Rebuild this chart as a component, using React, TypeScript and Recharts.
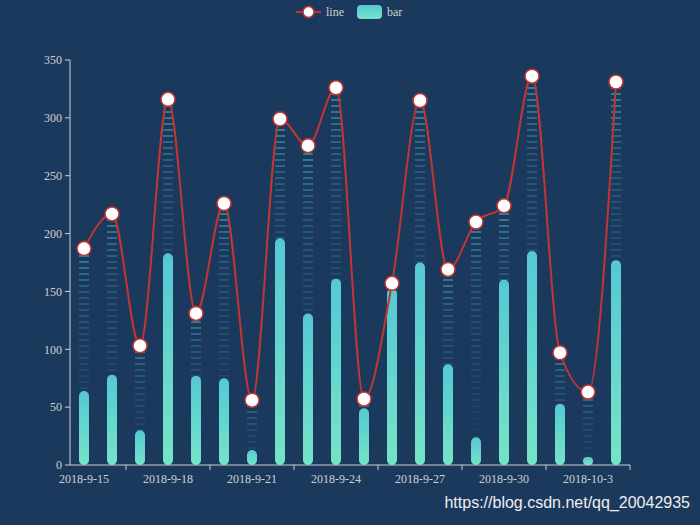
import { ComposedChart, Bar, Line, XAxis, YAxis } from 'recharts';

const dates = [
  '2018-9-15', '2018-9-16', '2018-9-17', '2018-9-18', '2018-9-19',
  '2018-9-20', '2018-9-21', '2018-9-22', '2018-9-23', '2018-9-24',
  '2018-9-25', '2018-9-26', '2018-9-27', '2018-9-28', '2018-9-29',
  '2018-9-30', '2018-10-1', '2018-10-2', '2018-10-3', '2018-10-4',
];
const lineValues = [187, 217, 103, 316, 131, 226, 56, 299, 276, 326, 57, 157, 315, 169, 210, 224, 336, 97, 63, 331];
const barValues = [64, 78, 30, 183, 77, 75, 13, 196, 131, 161, 49, 152, 175, 87, 24, 160, 185, 53, 7, 177];
const yTicks = [0, 50, 100, 150, 200, 250, 300, 350];

const data = dates.map((date, i) => ({ date, line: lineValues[i], bar: barValues[i] }));

const BG = '#1b395d';
const RED = '#c23531';
const AXIS = '#d0d0d0';
const BAR_TOP = '#57c7d5';
const BAR_BOTTOM = '#74e5c6';
const SERIF = '"Liberation Serif", "Times New Roman", serif';

// rounded pill bar with gradient
const RoundBar = (props: any) => {
  const { x, y, width, height } = props;
  if (!height || height <= 0) return null;
  const r = Math.min(5, height / 2);
  return <rect x={x} y={y} width={width} height={height} rx={r} ry={r} fill="url(#barGrad)" />;
};

// gradient column covered by repeated background rects -> dotted look
const DottedBar = (props: any) => {
  const { x, y, width, height } = props;
  if (!height || height <= 0) return null;
  const bottom = y + height;
  const covers = [];
  for (let b = bottom; b > y; b -= 6) {
    const top = Math.max(y, b - 4);
    covers.push(<rect key={b} x={x - 1} y={top} width={width + 2} height={b - top} fill={BG} />);
  }
  return (
    <g>
      <rect x={x} y={y} width={width} height={height} fill="url(#lineGrad)" />
      {covers}
    </g>
  );
};

const XTick = (props: any) => {
  const { x, y, payload } = props;
  return (
    <g>
      <line x1={x + 42} x2={x + 42} y1={y} y2={y + 5} stroke={AXIS} />
      <text x={x} y={y + 18} textAnchor="middle" fill={AXIS} fontSize={12} fontFamily={SERIF}>
        {payload.value}
      </text>
    </g>
  );
};

export default function App() {
  return (
    <div style={{ position: 'absolute', left: 0, top: 0, width: 700, height: 525, background: BG }}>
      <ComposedChart
        width={700}
        height={525}
        data={data}
        margin={{ top: 60, right: 70, bottom: 30, left: 30 }}
        barGap={-10}
      >
        <defs>
          <linearGradient id="barGrad" x1="0" y1="0" x2="0" y2="1">
            <stop offset="0%" stopColor={BAR_TOP} />
            <stop offset="100%" stopColor={BAR_BOTTOM} />
          </linearGradient>
          <linearGradient id="lineGrad" x1="0" y1="0" x2="0" y2="1">
            <stop offset="0%" stopColor={BAR_TOP} stopOpacity={0.5} />
            <stop offset="20%" stopColor={BAR_TOP} stopOpacity={0.22} />
            <stop offset="100%" stopColor={BAR_TOP} stopOpacity={0} />
          </linearGradient>
        </defs>
        <XAxis
          dataKey="date"
          height={30}
          interval={2}
          tickSize={0}
          tickMargin={0}
          tickLine={false}
          axisLine={{ stroke: AXIS }}
          tick={<XTick />}
        />
        <YAxis
          width={40}
          domain={[0, 350]}
          ticks={yTicks}
          tickSize={5}
          tickMargin={3}
          axisLine={{ stroke: AXIS }}
          tickLine={{ stroke: AXIS }}
          tick={{ fill: AXIS, fontSize: 12, fontFamily: SERIF }}
        />
        <Bar dataKey="line" barSize={10} shape={<DottedBar />} isAnimationActive={false} />
        <Bar dataKey="bar" barSize={10} shape={<RoundBar />} isAnimationActive={false} />
        <Line
          type="monotone"
          dataKey="line"
          stroke={RED}
          strokeWidth={2}
          dot={{ r: 7, fill: '#fff', stroke: RED, strokeWidth: 1.5 }}
          isAnimationActive={false}
        />
      </ComposedChart>
      <svg width={700} height={30} style={{ position: 'absolute', left: 0, top: 0 }}>
        <defs>
          <linearGradient id="legendGrad" x1="0" y1="0" x2="0" y2="1">
            <stop offset="0%" stopColor={BAR_TOP} />
            <stop offset="100%" stopColor={BAR_BOTTOM} />
          </linearGradient>
        </defs>
        <line x1={296} x2={321} y1={12} y2={12} stroke={RED} strokeWidth={2} />
        <circle cx={308.5} cy={12} r={5.5} fill="#fff" stroke={RED} strokeWidth={1.5} />
        <text x={326} y={16} fill={AXIS} fontSize={12} fontFamily={SERIF}>line</text>
        <rect x={357} y={5} width={25} height={14} rx={4} fill="url(#legendGrad)" />
        <text x={387} y={16} fill={AXIS} fontSize={12} fontFamily={SERIF}>bar</text>
      </svg>
      <div
        style={{
          position: 'absolute',
          right: 10,
          top: 494,
          color: '#eee',
          fontSize: 16,
          fontFamily: '"Liberation Sans", Arial, sans-serif',
          whiteSpace: 'nowrap',
        }}
      >
        https://blog.csdn.net/qq_20042935
      </div>
    </div>
  );
}
